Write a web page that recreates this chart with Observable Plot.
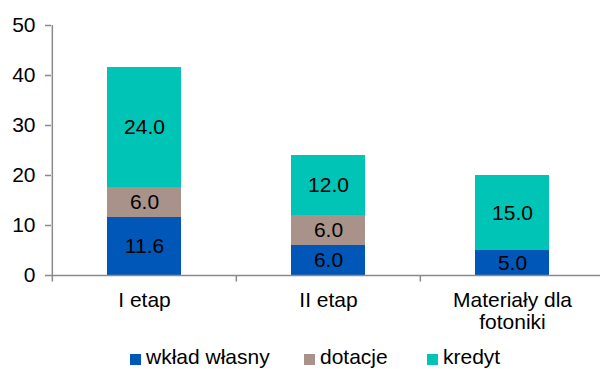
<!DOCTYPE html>
<html>
<head>
<meta charset="utf-8">
<script src="https://cdn.jsdelivr.net/npm/d3@7"></script>
<script src="https://cdn.jsdelivr.net/npm/@observablehq/plot@0.6"></script>
<style>
  html, body { margin: 0; padding: 0; background: #fff; overflow: hidden; }
  body { width: 600px; height: 369px; font-family: "Liberation Sans", Arial, sans-serif; }
  #legend { height: 29px; padding-left: 130px; box-sizing: border-box; padding-top: 5px; font-size: 21px; line-height: 24px; color: #000; white-space: nowrap; }
  .item { display: inline-block; vertical-align: top; }
  .sw { display: inline-block; width: 11px; height: 11px; margin-right: 5px; vertical-align: -1px; }
</style>
</head>
<body>
<div id="chart"></div>
<div id="legend"></div>
<script>
const categories = ["I etap", "II etap", "Materiały dla\nfotoniki"];
const seriesNames = ["wkład własny", "dotacje", "kredyt"];
const seriesColors = ["#0057B8", "#A8928A", "#00C4B5"];
const wkladWlasny = [11.6, 6.0, 5.0];
const dotacje = [6.0, 6.0, 0.0];
const kredyt = [24.0, 12.0, 15.0];
const yTicks = [0, 10, 20, 30, 40, 50];

const seriesValues = [wkladWlasny, dotacje, kredyt];
const data = [];
seriesNames.forEach((s, si) => {
  categories.forEach((c, ci) => {
    data.push({cat: c, series: s, value: seriesValues[si][ci]});
  });
});
const labelled = data.filter(d => d.value > 0);

const W = 600, H = 340, mL = 51, xEnd = 604;
const step = (xEnd - mL) / categories.length;
const gray = "#8a8a8a";
const FS = 21;

const chart = Plot.plot({
  width: W,
  height: H,
  marginLeft: mL,
  marginRight: 0,
  marginTop: 25,
  marginBottom: 65,
  style: {fontFamily: "'Liberation Sans', Arial, sans-serif", fontSize: FS + "px", color: "#000", background: "#fff"},
  x: {domain: categories, range: [mL, xEnd], paddingInner: 0.6, paddingOuter: 0.3},
  y: {domain: [0, 50]},
  color: {domain: seriesNames, range: seriesColors},
  marks: [
    Plot.barY(data, Plot.stackY({x: "cat", y: "value", fill: "series", order: seriesNames})),
    Plot.text(labelled, Plot.stackY({x: "cat", y: "value", z: "series", text: d => d.value.toFixed(1), order: seriesNames, fill: "#000", fontSize: FS})),
    Plot.ruleY([0], {stroke: gray, strokeWidth: 1.5}),
    Plot.ruleX(categories, {x: d => d, dx: -step / 2, y1: -1.3, y2: (d, i) => i === 0 ? 50 : 0, stroke: gray, strokeWidth: 1.5}),
    Plot.axisY({ticks: yTicks, tickSize: 6, tickPadding: 10, stroke: gray, strokeWidth: 1.5, fill: "#000", fontSize: FS, label: null}),
    Plot.axisX({tickSize: 0, tickPadding: 16, fill: "#000", fontSize: FS, lineHeight: 1.05, label: null})
  ]
});
document.getElementById("chart").appendChild(chart);

const legend = document.getElementById("legend");
const widths = [174, 123, 100];
seriesNames.forEach((s, i) => {
  const it = document.createElement("span");
  it.className = "item";
  it.style.width = widths[i] + "px";
  it.innerHTML = `<span class="sw" style="background:${seriesColors[i]}"></span>${s}`;
  legend.appendChild(it);
});
</script>
</body>
</html>
